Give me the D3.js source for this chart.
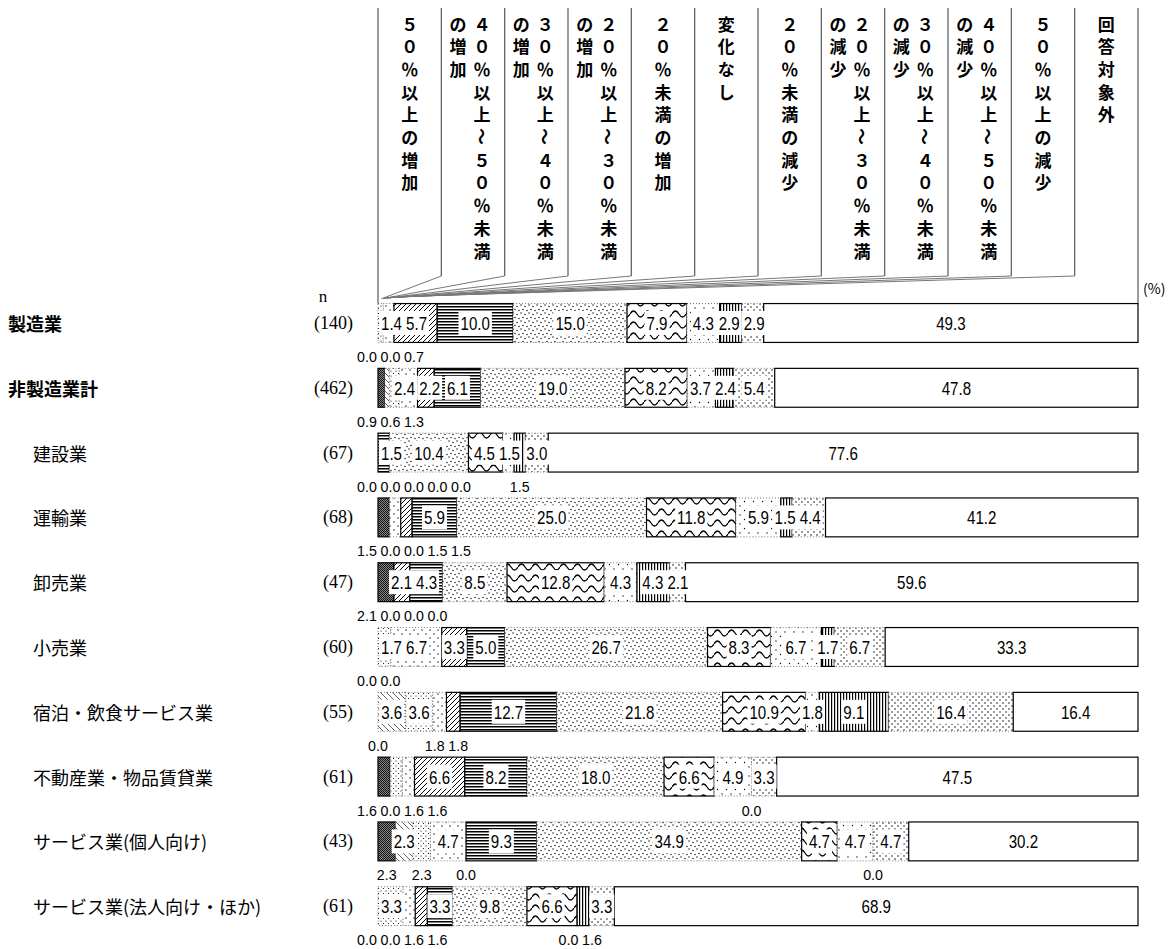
<!DOCTYPE html>
<html>
<head>
<meta charset="utf-8">
<script src="https://cdn.jsdelivr.net/npm/d3@7"></script>
<style>
  body { margin: 0; background: #fff; }
  svg { display: block; }
</style>
</head>
<body>
<svg id="chart" width="1175" height="949"></svg>
<script>
// answer categories (left to right in every bar)
const categories = [
  "５０％以上の増加",
  "４０％以上～５０％未満の増加",
  "３０％以上～４０％未満の増加",
  "２０％以上～３０％未満の増加",
  "２０％未満の増加",
  "変化なし",
  "２０％未満の減少",
  "２０％以上～３０％未満の減少",
  "３０％以上～４０％未満の減少",
  "４０％以上～５０％未満の減少",
  "５０％以上の減少",
  "回答対象外"
];

const industries = [
  "製造業", "非製造業計", "建設業", "運輸業", "卸売業", "小売業",
  "宿泊・飲食サービス業", "不動産業・物品賃貸業",
  "サービス業(個人向け)", "サービス業(法人向け・ほか)"
];
const totalRows = ["製造業", "非製造業計"];
const sampleSizes = [140, 462, 67, 68, 47, 60, 55, 61, 43, 61];

// shares in %, one per category
const manufacturing    = [0.0, 0.0, 0.7, 1.4, 5.7, 10.0, 15.0, 7.9, 4.3, 2.9, 2.9, 49.3];
const nonManufacturing = [0.9, 0.6, 1.3, 2.4, 2.2, 6.1, 19.0, 8.2, 3.7, 2.4, 5.4, 47.8];
const construction     = [0.0, 0.0, 0.0, 0.0, 0.0, 1.5, 10.4, 4.5, 1.5, 1.5, 3.0, 77.6];
const transport        = [1.5, 0.0, 0.0, 1.5, 1.5, 5.9, 25.0, 11.8, 5.9, 1.5, 4.4, 41.2];
const wholesale        = [2.1, 0.0, 0.0, 0.0, 2.1, 4.3, 8.5, 12.8, 4.3, 4.3, 2.1, 59.6];
const retail           = [0.0, 0.0, 1.7, 6.7, 3.3, 5.0, 26.7, 8.3, 6.7, 1.7, 6.7, 33.3];
const hospitality      = [0.0, 3.6, 3.6, 1.8, 1.8, 12.7, 21.8, 10.9, 1.8, 9.1, 16.4, 16.4];
const realEstate       = [1.6, 0.0, 1.6, 1.6, 6.6, 8.2, 18.0, 6.6, 4.9, 0.0, 3.3, 47.5];
const personalService  = [2.3, 2.3, 2.3, 4.7, 0.0, 9.3, 34.9, 4.7, 4.7, 0.0, 4.7, 30.2];
const businessService  = [0.0, 0.0, 3.3, 1.6, 1.6, 3.3, 9.8, 6.6, 0.0, 1.6, 3.3, 68.9];
const rowValues = [manufacturing, nonManufacturing, construction, transport, wholesale,
  retail, hospitality, realEstate, personalService, businessService];

// which category labels are written under the bar instead of inside it
const labelsBelow = [
  [0, 1, 2], [0, 1, 2], [0, 1, 2, 3, 4, 9], [0, 1, 2, 3, 4], [0, 1, 2, 3],
  [0, 1], [0, 3, 4], [0, 1, 2, 3, 9], [0, 2, 4, 9], [0, 1, 3, 4, 8, 9]
];

const svg = d3.select("#chart");
const W = 1175, H = 949;
svg.append("rect").attr("width", W).attr("height", H).attr("fill", "#fff");

const x = d3.scaleLinear().domain([0, 100]).range([378, 1138]);
const y = d3.scaleBand().domain(industries).range([290.6, 938.6]).paddingInner(0.4).paddingOuter(0.2);
const col = d3.scaleBand().domain(categories).range(x.range());

const JP = "'Noto Sans CJK JP', sans-serif";
const SANS = "'Liberation Sans', Arial, sans-serif";
const SERIF = "'Liberation Serif', 'DejaVu Serif', serif";

// ---- fill patterns, one per category ----
const defs = svg.append("defs");
function pat(id, w, h, draw) {
  const p = defs.append("pattern").attr("id", id)
    .attr("patternUnits", "userSpaceOnUse").attr("width", w).attr("height", h);
  p.append("rect").attr("width", w).attr("height", h).attr("fill", "#fff");
  draw(p);
}
function dots(p, pts, r) {
  pts.forEach(([cx, cy]) => p.append("circle").attr("cx", cx).attr("cy", cy).attr("r", r).attr("fill", "#000"));
}
pat("p0", 2, 2, p => {
  p.append("rect").attr("width", 2).attr("height", 2).attr("fill", "#8a8a8a");
  p.append("rect").attr("width", 1).attr("height", 1).attr("fill", "#111");
  p.append("rect").attr("x", 1).attr("y", 1).attr("width", 1).attr("height", 1).attr("fill", "#111");
});
pat("p1", 6, 6, p => p.append("path").attr("d", "M0,0L6,6M-1,5L1,7M5,-1L7,1")
  .attr("stroke", "#333").attr("stroke-width", 0.8));
pat("p2", 5, 5, p => dots(p, [[1, 1], [3.5, 3.5]], 0.6));
pat("p3", 8, 8, p => dots(p, [[2, 2], [6, 6]], 0.7));
pat("p4", 5, 5, p => p.append("path").attr("d", "M0,5L5,0M-1,1L1,-1M4,6L6,4")
  .attr("stroke", "#000").attr("stroke-width", 1));
pat("p5", 3, 3, p => p.append("rect").attr("width", 3).attr("height", 1.5).attr("fill", "#000"));
pat("p6", 8, 8, p => dots(p, [[1, 1], [5, 2.5], [3, 5.5], [7, 6.5]], 0.7));
pat("p7", 14, 11, p => p.append("path").attr("d", "M0,6 Q3.5,0 7,6 T14,6")
  .attr("fill", "none").attr("stroke", "#000").attr("stroke-width", 1.3));
pat("p8", 9, 9, p => dots(p, [[2, 2], [6.5, 6.5]], 0.65));
pat("p9", 3, 3, p => p.append("rect").attr("width", 1.2).attr("height", 3).attr("fill", "#000"));
pat("p10", 6, 6, p => dots(p, [[1, 1], [4, 4]], 0.75));
pat("p11", 4, 4, () => {});
const solidBorder = new Set([0, 4, 5, 7, 9, 11]);

// ---- header: vertical category names ----
const header = svg.append("g").attr("font-family", JP).attr("font-weight", 700)
  .attr("font-size", 17).attr("fill", "#000");
const edges = categories.map(c => col(c)).concat([x.range()[1]]);
const barTop = y(industries[0]);

edges.forEach((ex, i) => {
  const outer = i === 0 || i === edges.length - 1;
  header.append("line").attr("x1", ex).attr("x2", ex).attr("y1", 8)
    .attr("y2", outer ? barTop : 276).attr("stroke", "#666").attr("stroke-width", 1.3);
  if (!outer) {
    header.append("line").attr("x1", ex).attr("y1", 276)
      .attr("x2", 380 + i * 1.3).attr("y2", 299 - i * 0.2)
      .attr("stroke", "#777").attr("stroke-width", 1);
  }
});

categories.forEach(name => {
  const chars = Array.from(name);
  const cols = d3.range(0, chars.length, 11).map(s => chars.slice(s, s + 11));
  const cx = col(name) + col.bandwidth() / 2;
  cols.forEach((cs, k) => {
    const px = cols.length === 1 ? cx : (k === 0 ? cx + 9 : cx - 15);
    cs.forEach((ch, j) => {
      const py = 23 + j * 22.7;
      const t = header.append("text").attr("x", px).attr("y", py)
        .attr("text-anchor", "middle").attr("dominant-baseline", "central").text(ch);
      if (ch === "～") t.attr("transform", `rotate(90,${px},${py})`);
    });
  });
});

svg.append("text").attr("x", 1143).attr("y", 288).attr("dominant-baseline", "central")
  .attr("font-family", JP).attr("font-size", 14).text("(%)");

svg.append("text").attr("x", 323).attr("y", 296).attr("text-anchor", "middle")
  .attr("dominant-baseline", "central").attr("font-family", SERIF).attr("font-size", 17).text("n");

// ---- label placement helpers ----
// under-bar labels: equal spacing inside clusters, clusters centred on their segments
function spreadBelow(items, gap, minX) {
  let clusters = items.map(d => ({ items: [d] }));
  const place = cl => {
    const n = cl.items.length;
    cl.start = Math.max(minX, d3.mean(cl.items, d => d.c) - gap * (n - 1) / 2);
    cl.end = cl.start + gap * (n - 1);
  };
  clusters.forEach(place);
  let changed = true;
  while (changed) {
    changed = false;
    for (let i = 1; i < clusters.length; i++) {
      if (clusters[i].start - clusters[i - 1].end < gap) {
        clusters[i - 1].items = clusters[i - 1].items.concat(clusters[i].items);
        clusters.splice(i, 1);
        place(clusters[i - 1]);
        changed = true;
        break;
      }
    }
  }
  clusters.forEach(cl => cl.items.forEach((d, j) => { d.px = cl.start + j * gap; }));
}
// in-bar labels: push neighbours apart until they no longer touch
function spreadInside(items, pad, minLeft) {
  items.forEach(d => { d.px = d.c; });
  for (let it = 0; it < 200; it++) {
    let moved = false;
    if (items.length && items[0].px - items[0].w / 2 < minLeft) {
      items[0].px = minLeft + items[0].w / 2;
      moved = true;
    }
    for (let i = 1; i < items.length; i++) {
      const a = items[i - 1], b = items[i];
      const o = (a.px + a.w / 2 + pad) - (b.px - b.w / 2);
      if (o > 0.01) { a.px -= o / 2; b.px += o / 2; moved = true; }
    }
    if (!moved) break;
  }
}

const fmt = d3.format(".1f");
const IN_SIZE = 18, IN_SX = 0.84;   // narrow figures, as in the original
const OUT_SIZE = 15, OUT_SX = 0.95;

industries.forEach((name, r) => {
  const vals = rowValues[r];
  const total = d3.sum(vals);
  const y0 = y(name), bh = y.bandwidth(), cy = y0 + bh / 2;
  const isTotal = totalRows.includes(name);

  svg.append("text").attr("x", isTotal ? 8 : 33).attr("y", cy)
    .attr("dominant-baseline", "central").attr("font-family", JP)
    .attr("font-size", 18).attr("font-weight", isTotal ? 700 : 400).text(name);
  svg.append("text").attr("x", 353).attr("y", cy).attr("text-anchor", "end")
    .attr("dominant-baseline", "central").attr("font-family", SERIF)
    .attr("font-size", 18).text(`(${sampleSizes[r]})`);

  let acc = 0;
  const segs = vals.map((v, k) => {
    const s = { k, v, x0: x(acc / total * 100), x1: x((acc + v) / total * 100) };
    acc += v;
    return s;
  });

  const g = svg.append("g");
  g.selectAll("rect").data(segs.filter(s => s.v > 0)).join("rect")
    .attr("x", s => s.x0).attr("y", y0)
    .attr("width", s => s.x1 - s.x0).attr("height", bh)
    .attr("fill", s => `url(#p${s.k})`)
    .attr("stroke", s => solidBorder.has(s.k) ? "#000" : "#555")
    .attr("stroke-width", s => solidBorder.has(s.k) ? 1.2 : 0.8)
    .attr("stroke-dasharray", s => solidBorder.has(s.k) ? null : "1,2");

  // labels inside the bar, each on a white box
  const inside = segs.filter(s => !labelsBelow[r].includes(s.k)).map(s => {
    const t = g.append("text").attr("text-anchor", "middle")
      .attr("dominant-baseline", "central").attr("font-family", SANS)
      .attr("font-size", IN_SIZE).text(fmt(s.v));
    return { t, c: (s.x0 + s.x1) / 2, w: t.node().getComputedTextLength() * IN_SX };
  });
  spreadInside(inside, 4, x(0) + 3);
  inside.forEach(d => {
    d.t.attr("transform", `translate(${d.px},${cy + 1}) scale(${IN_SX},1)`);
    g.insert("rect", "text").attr("x", d.px - d.w / 2 - 2).attr("y", cy - 12)
      .attr("width", d.w + 4).attr("height", 24).attr("fill", "#fff");
  });

  // small shares written under the bar
  const below = segs.filter(s => labelsBelow[r].includes(s.k))
    .map(s => ({ v: s.v, c: (s.x0 + s.x1) / 2 }));
  spreadBelow(below, 23.5, 367);
  g.selectAll("text.below").data(below).join("text").attr("class", "below")
    .attr("transform", d => `translate(${d.px},${y0 + bh + 14.5}) scale(${OUT_SX},1)`)
    .attr("text-anchor", "middle").attr("dominant-baseline", "central")
    .attr("font-family", SANS).attr("font-size", OUT_SIZE).text(d => fmt(d.v));
});
</script>
</body>
</html>
